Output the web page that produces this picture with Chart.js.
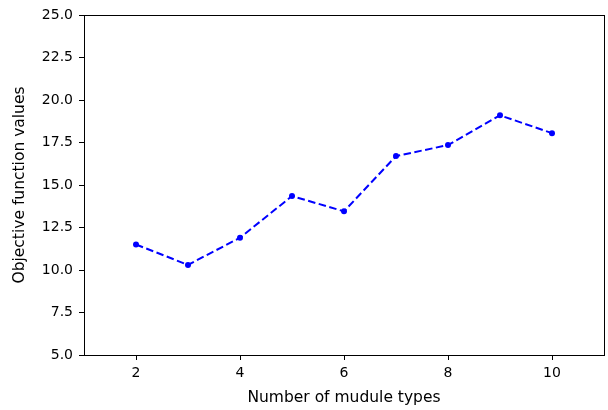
<!DOCTYPE html>
<html>
<head>
<meta charset="utf-8">
<script src="https://cdn.jsdelivr.net/npm/chart.js@4"></script>
<style>
  html, body { margin: 0; padding: 0; background: #fff; }
  #wrap { width: 608px; height: 410px; }
</style>
</head>
<body>
<div id="wrap"><canvas id="LineChart" width="608" height="410"></canvas></div>
<script>
// data
var moduleTypes = [2, 3, 4, 5, 6, 7, 8, 9, 10];
var objectiveValues = [11.5, 10.3, 11.9, 14.35, 13.45, 16.7, 17.35, 19.1, 18.05];
var xTicks = [2, 4, 6, 8, 10];
var yTicks = [5, 7.5, 10, 12.5, 15, 17.5, 20, 22.5, 25];

function toPoints(xs, ys) {
    var pts = [];
    for (var i = 0; i < xs.length; i++) {
        pts.push({ x: xs[i], y: ys[i] });
    }
    return pts;
}

// box around plot area, like matplotlib spines
var frame = {
    id: 'frame',
    afterDraw: function (chart) {
        var a = chart.chartArea, ctx = chart.ctx;
        ctx.save();
        ctx.strokeStyle = '#000';
        ctx.lineWidth = 1;
        ctx.strokeRect(Math.round(a.left) + 0.5, Math.round(a.top) + 0.5,
            Math.round(a.right - a.left), Math.round(a.bottom - a.top));
        ctx.restore();
    }
};

var font = { family: 'DejaVu Sans', size: 14 };
var titleFont = { family: 'DejaVu Sans', size: 15.5 };

new Chart(document.getElementById('LineChart').getContext('2d'), {
    type: 'line',
    data: {
        datasets: [{
            data: toPoints(moduleTypes, objectiveValues),
            borderColor: '#0000ff',
            backgroundColor: '#0000ff',
            borderWidth: 2,
            borderDash: [7.5, 3.5],
            pointRadius: 3,
            pointBorderWidth: 0,
            fill: false,
            tension: 0
        }]
    },
    options: {
        responsive: false,
        animation: false,
        layout: { padding: { left: 0, right: 3, top: 15, bottom: 0 } },
        plugins: { legend: { display: false }, tooltip: { enabled: false } },
        scales: {
            x: {
                type: 'linear',
                min: 1,
                max: 11,
                afterBuildTicks: function (s) { s.ticks = xTicks.map(function (v) { return { value: v }; }); },
                afterFit: function (s) { s.height = 55; },
                grid: { drawOnChartArea: false, drawTicks: true, tickLength: 5, color: '#000' },
                border: { display: false },
                ticks: { color: '#000', font: font, padding: 5, maxRotation: 0 },
                title: { display: true, text: 'Number of mudule types', color: '#000', font: titleFont, padding: { top: 0, bottom: 3 } }
            },
            y: {
                min: 5,
                max: 25,
                afterBuildTicks: function (s) { s.ticks = yTicks.map(function (v) { return { value: v }; }); },
                afterFit: function (s) { s.width = 84; },
                grid: { drawOnChartArea: false, drawTicks: true, tickLength: 5, color: '#000' },
                border: { display: false },
                ticks: { color: '#000', font: font, padding: 6, callback: function (v) { return v.toFixed(1); } },
                title: { display: true, text: 'Objective function values', color: '#000', font: titleFont, padding: { top: 11, bottom: 0 } }
            }
        }
    },
    plugins: [frame]
});
</script>
</body>
</html>
